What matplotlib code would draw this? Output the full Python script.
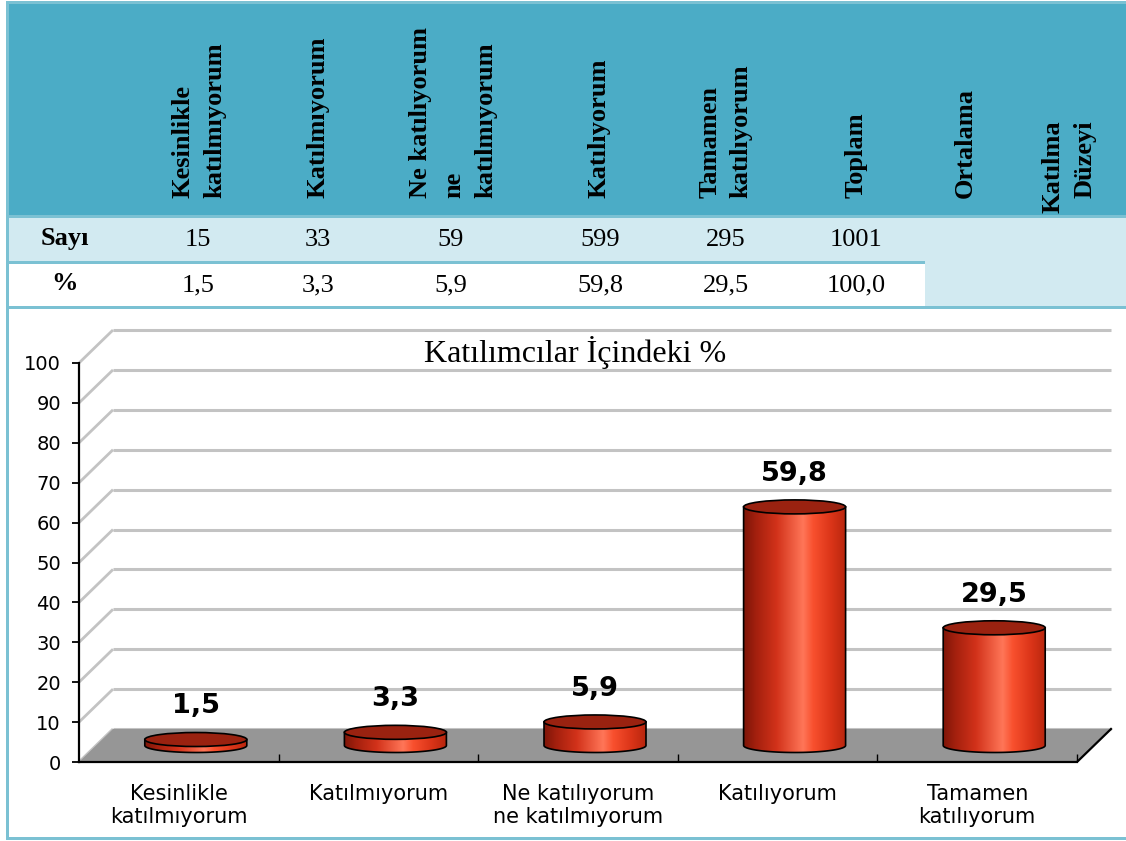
import numpy as np
import matplotlib
matplotlib.use('Agg')
import matplotlib.pyplot as plt
from matplotlib.patches import Rectangle, Ellipse, Polygon, PathPatch
from matplotlib.path import Path
from matplotlib.colors import LinearSegmentedColormap

# ---- data ----
header_cols = [['Kesinlikle', 'katılmıyorum'], ['Katılmıyorum'],
               ['Ne katılıyorum', 'ne', 'katılmıyorum'], ['Katılıyorum'],
               ['Tamamen', 'katılıyorum'], ['Toplam'], ['Ortalama'],
               ['Katılma', 'Düzeyi']]
row_names = ['Sayı', '%']
counts = [15, 33, 59, 599, 295, 1001]
percents = [1.5, 3.3, 5.9, 59.8, 29.5, 100.0]
categories = ['Kesinlikle\nkatılmıyorum', 'Katılmıyorum',
              'Ne katılıyorum\nne katılmıyorum', 'Katılıyorum',
              'Tamamen\nkatılıyorum']
bar_values = percents[:5]
yticks = list(range(0, 101, 10))
title = 'Katılımcılar İçindeki %'


def tr_num(v):
    return f'{v:.1f}'.replace('.', ',')


W, H = 1126, 841
SERIF = 'Liberation Serif'
SANS = 'DejaVu Sans'
TEAL = '#7BC1D3'
HEAD = '#4BACC6'
LIGHT = '#D2EAF1'

fig = plt.figure(figsize=(W / 100, H / 100), dpi=100)

# ---- table part (pixel layout axes) ----
tab = fig.add_axes([0, 0, 1, 1])
tab.set_xlim(0, W)
tab.set_ylim(H, 0)
tab.axis('off')

tab.add_patch(Rectangle((0, 0), W, H, fc='white', ec='none'))
tab.add_patch(Rectangle((9, 4), W, 211, fc=HEAD, ec='none'))
tab.add_patch(Rectangle((9, 218), W, 88, fc=LIGHT, ec='none'))
tab.add_patch(Rectangle((9, 264), 916, 42, fc='white', ec='none'))
# teal borders
tab.add_patch(Rectangle((6, 1), W, 3, fc=TEAL, ec='none'))
tab.add_patch(Rectangle((6, 1), 3, 839, fc=TEAL, ec='none'))
tab.add_patch(Rectangle((9, 215), W, 3, fc=TEAL, ec='none'))
tab.add_patch(Rectangle((9, 261), 916, 3, fc=TEAL, ec='none'))
tab.add_patch(Rectangle((9, 306), W, 3, fc=TEAL, ec='none'))
tab.add_patch(Rectangle((6, 837), W, 3, fc=TEAL, ec='none'))

head_x = [[183, 215], [318], [420, 454, 486], [599], [710, 741], [856],
          [965], [1053, 1085]]
head_bottom = [[198, 198], [198], [198, 198, 198], [198], [198, 198], [198],
               [198], [213, 198]]
for lines, xs, ys in zip(header_cols, head_x, head_bottom):
    for txt, x, y in zip(lines, xs, ys):
        tab.text(x, y, txt, rotation=90, ha='center', va='bottom',
                 family=SERIF, fontweight='bold', fontsize=19)

val_x = [198, 318, 451, 600, 726, 856]
row_y = [240, 285]
for name, y in zip(row_names, row_y):
    tab.text(65, y - 2, name, ha='center', va='center', family=SERIF,
             fontweight='bold', fontsize=19)
for x, c, p in zip(val_x, counts, percents):
    tab.text(x, row_y[0], str(c), ha='center', va='center', family=SERIF,
             fontsize=19)
    tab.text(x, row_y[1], tr_num(p), ha='center', va='center', family=SERIF,
             fontsize=19)

fig.text(575 / W, 1 - 353 / H, title, ha='center', va='center',
         family=SERIF, fontsize=23)

# ---- 3D-looking cylinder chart ----
px_cat = 199.6
px_val = 3.99
ax = fig.add_axes([79 / W, (H - 762) / H, 5.2 * px_cat / W, 110 * px_val / H])
ax.set_xlim(0, 5.2)
ax.set_ylim(0, 110)
ax.patch.set_alpha(0)

dxu = 34 / px_cat   # depth offset, category units
dyu = 33 / px_val   # depth offset, value units
grid_c = '#C3C3C3'

for v in yticks:
    ax.plot([0, dxu], [v, v + dyu], color=grid_c, lw=2, zorder=0.5,
            solid_capstyle='butt')
    ax.plot([dxu, 5 + dxu], [v + dyu, v + dyu], color=grid_c, lw=2.2,
            zorder=0.5, solid_capstyle='butt')

ax.add_patch(Polygon([(0, 0), (5, 0), (5 + dxu, dyu), (dxu, dyu)],
                     closed=True, fc='#969696', ec='none', zorder=1))
ax.plot([5, 5 + dxu], [0, dyu], color='black', lw=1.6, zorder=2)

cmap = LinearSegmentedColormap.from_list('cyl', [
    (0.0, '#7E1608'), (0.12, '#A4200E'), (0.32, '#D2321A'),
    (0.58, '#FF7658'), (0.68, '#F8502E'), (0.86, '#DA3418'),
    (1.0, '#B8260E')])
grad = cmap(np.linspace(0, 1, 256))[np.newaxis, :, :]

a = 51 / px_cat
b = 7 / px_val
base = dyu / 2
theta = np.linspace(np.pi, 2 * np.pi, 80)
for i, v in enumerate(bar_values):
    xc = i + 0.5 + dxu / 2
    top = base + v
    pts = [(xc - a, top), (xc - a, base)]
    pts += list(zip(xc + a * np.cos(theta), base + b * np.sin(theta)))
    pts += [(xc + a, top), (xc - a, top)]
    body = PathPatch(Path(pts, closed=True), fc='none', ec='black', lw=1.2,
                     zorder=4)
    ax.add_patch(body)
    im = ax.imshow(grad, extent=[xc - a, xc + a, base - b, top],
                   aspect='auto', zorder=3, interpolation='bilinear')
    im.set_clip_path(body)
    ax.add_patch(Ellipse((xc, top), 2 * a, 2 * b, fc='#9A2210', ec='black',
                         lw=1.2, zorder=5))
    ax.text(xc, top + 8.3, tr_num(v), ha='center', va='center',
            family=SANS, fontweight='bold', fontsize=19.5, zorder=6)

ax.set_xlim(0, 5.2)
ax.set_ylim(0, 110)

for s in ['top', 'right']:
    ax.spines[s].set_visible(False)
ax.spines['left'].set_bounds(0, 100)
ax.spines['bottom'].set_bounds(0, 5)
ax.spines['left'].set_linewidth(1.6)
ax.spines['bottom'].set_linewidth(1.6)
ax.spines['left'].set_zorder(2.5)
ax.spines['bottom'].set_zorder(2.5)

ax.set_yticks(yticks)
ax.set_yticklabels([str(t) for t in yticks], family=SANS, fontsize=14)
ax.tick_params(axis='y', direction='out', length=5, width=1.3, pad=8)

ax.set_xticks([i + 0.5 for i in range(5)])
ax.set_xticklabels(categories, family=SANS, fontsize=15, linespacing=1.2)
ax.set_xticks(range(1, 6), minor=True)
ax.tick_params(axis='x', which='major', length=0, pad=16)
ax.tick_params(axis='x', which='minor', direction='in', length=6, width=1)

fig.savefig('out.png', dpi=100)
